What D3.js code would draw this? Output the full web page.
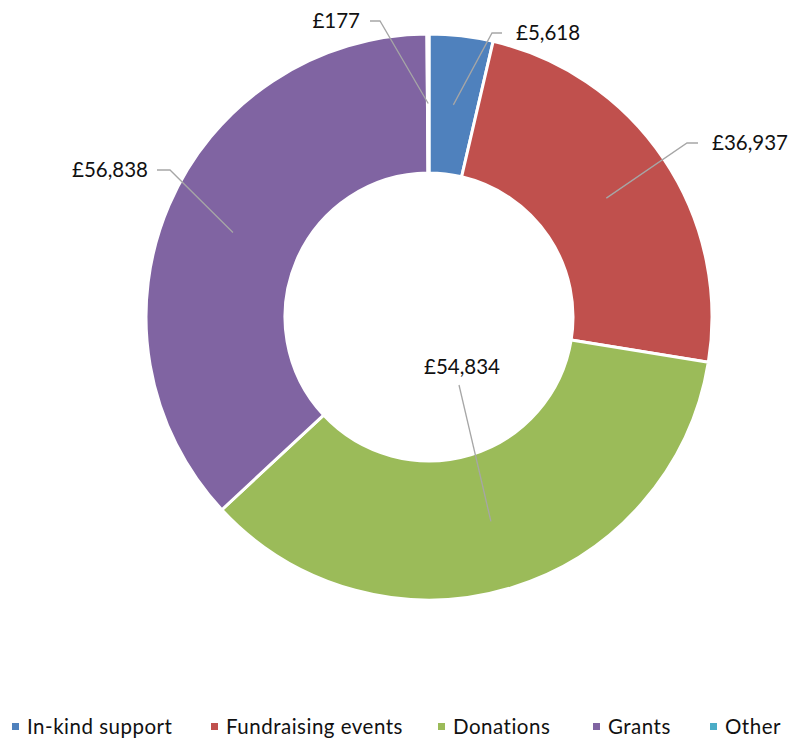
<!DOCTYPE html>
<html><head><meta charset="utf-8">
<script src="https://cdn.jsdelivr.net/npm/d3@7"></script>
<style>body{margin:0;background:#fff}svg{display:block}text{font-family:Lato,"Open Sans",sans-serif}</style>
</head><body><svg id="c" width="794" height="742"></svg>
<script>
const categories = ["In-kind support","Fundraising events","Donations","Grants","Other"];
const values = [5618,36937,54834,56838,177];
const valueLabels = ["£5,618","£36,937","£54,834","£56,838","£177"];
const colors = ["#4F81BD","#C0504D","#9BBB59","#8064A2","#4BACC6"];

const W=794,H=742,cx=429,cy=317,R=283,r0=144,rMid=213.5;
const svg=d3.select("#c");
const g=svg.append("g").attr("transform",`translate(${cx},${cy})`);
const pie=d3.pie().sort(null).value(d=>d)(values);
const arc=d3.arc().innerRadius(r0).outerRadius(R);
g.selectAll("path.s").data(pie).join("path").attr("class","s")
 .attr("d",arc).attr("fill",(d,i)=>colors[i]).attr("stroke","#fff").attr("stroke-width",3);

// label layout: elbow point (relative to centre), text anchor
const layout=[
 {elbow:[63,-284],end:[73,-284],tx:87,anchor:"start"},
 {elbow:[258,-174],end:[269,-174],tx:283,anchor:"start"},
 {elbow:[30,68],end:null,tx:33,ty:50,anchor:"middle"},
 {elbow:[-259,-147],end:[-272,-147],tx:-281,anchor:"end"},
 {elbow:[-49,-296],end:[-59,-296],tx:-69,anchor:"end"}
];
const mid=d3.arc().innerRadius(rMid).outerRadius(rMid);
pie.forEach((d,i)=>{
  const p=mid.centroid(d), L=layout[i];
  const pts=[p,L.elbow]; if(L.end) pts.push(L.end);
  g.append("path").attr("d",d3.line()(pts)).attr("fill","none").attr("stroke","#a6a6a6").attr("stroke-width",1.3);
  g.append("text").attr("x",L.tx).attr("y",L.ty!==undefined?L.ty:L.elbow[1]).attr("dy","0.35em")
   .attr("text-anchor",L.anchor).attr("font-size",20.5).attr("fill","#111").text(valueLabels[i]);
});

// legend
const legX=[12,211,438,593,710];
const lg=svg.append("g");
categories.forEach((c,i)=>{
  lg.append("rect").attr("x",legX[i]).attr("y",723).attr("width",7).attr("height",7).attr("fill",colors[i]);
  lg.append("text").attr("x",legX[i]+15).attr("y",727).attr("dy","0.35em").attr("font-size",20.5)
   .attr("letter-spacing",0.5).attr("fill","#111").text(c);
});
</script></body></html>
